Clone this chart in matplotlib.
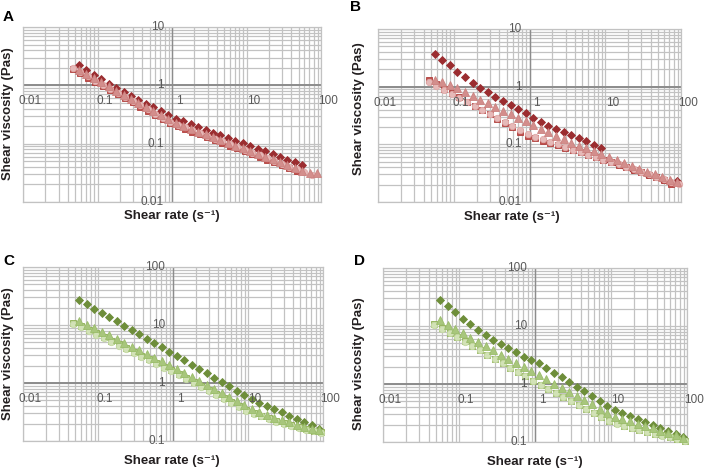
import matplotlib
matplotlib.use("Agg")
import matplotlib.pyplot as plt
from matplotlib.ticker import LogLocator, NullFormatter

plt.rcParams['font.family'] = ['Liberation Sans', 'DejaVu Sans']

# shear rates (1/s): diamonds/triangles and squares/circles were sampled a bit apart
rate_d = [0.056, 0.071, 0.089, 0.112, 0.141, 0.178, 0.224, 0.282, 0.355, 0.447, 0.562,
          0.708, 0.891, 1.12, 1.41, 1.78, 2.24, 2.82, 3.55, 4.47, 5.62, 7.08, 8.91, 11.2,
          14.1, 17.8, 22.4, 28.2, 35.5, 44.7, 56.2, 70.8, 89.1]
rate_s = [0.047, 0.059, 0.075, 0.094, 0.119, 0.149, 0.188, 0.237, 0.298, 0.375, 0.473,
          0.595, 0.749, 0.944, 1.19, 1.5, 1.88, 2.37, 2.98, 3.75, 4.73, 5.95, 7.49, 9.44,
          11.9, 15.0, 18.8, 23.7, 29.8, 37.5, 47.3, 59.5, 74.9, 94.4]

# panel A
a_diamond = [2.2, 1.83, 1.53, 1.28, 1.07, 0.9, 0.77, 0.66, 0.565, 0.485, 0.418, 0.36,
             0.31, 0.268, 0.24, 0.215, 0.193, 0.173, 0.155, 0.139, 0.125, 0.112, 0.101,
             0.0905, 0.0815, 0.0735, 0.066, 0.0595, 0.0535, 0.048, 0.0435]
a_square = [1.88, 1.6, 1.36, 1.15, 0.98, 0.83, 0.705, 0.6, 0.51, 0.432, 0.367, 0.312, 0.265,
            0.225, 0.201, 0.18, 0.161, 0.144, 0.129, 0.116, 0.104, 0.093, 0.083, 0.0744,
            0.0666, 0.0597, 0.0534, 0.0479, 0.0428, 0.0384, 0.034]
a_circle = [1.98, 1.68, 1.43, 1.21, 1.03, 0.875, 0.743, 0.631, 0.536, 0.455, 0.386, 0.328,
            0.279, 0.237, 0.212, 0.19, 0.17, 0.152, 0.136, 0.122, 0.109, 0.0977, 0.0875,
            0.0783, 0.0701, 0.0628, 0.0562, 0.0504, 0.0451, 0.0404, 0.0361, 0.0324, 0.029]
a_triangle = [1.85, 1.56, 1.33, 1.13, 0.96, 0.815, 0.695, 0.59, 0.502, 0.428, 0.364, 0.31,
              0.264, 0.225, 0.201, 0.18, 0.161, 0.144, 0.129, 0.116, 0.104, 0.093, 0.083,
              0.075, 0.067, 0.06, 0.054, 0.048, 0.043, 0.0385, 0.0345, 0.031, 0.032]

# panel B
b_diamond = [3.69, 2.90, 2.35, 1.82, 1.49, 1.17, 0.96, 0.80, 0.67, 0.565, 0.482, 0.411,
             0.346, 0.290, 0.245, 0.208, 0.184, 0.163, 0.144, 0.127, 0.112, 0.099, 0.0875,
             0.054, 0.047, 0.042, 0.038, 0.034, 0.031, 0.028, 0.025, 0.0225, 0.023]
b_square = [1.30, 1.095, 0.923, 0.777, 0.655, 0.551, 0.465, 0.391, 0.330, 0.278, 0.234,
            0.197, 0.166, 0.140, 0.127, 0.116, 0.105, 0.0958, 0.0872, 0.0793, 0.0722,
            0.0657, 0.0598, 0.0544, 0.0491, 0.0444, 0.0401, 0.0363, 0.0328, 0.0296,
            0.0268, 0.0242, 0.0205]
b_circle = [1.22, 1.04, 0.88, 0.75, 0.64, 0.545, 0.462, 0.392, 0.333, 0.283, 0.241, 0.205,
            0.175, 0.152, 0.136, 0.123, 0.111, 0.1, 0.09, 0.081, 0.073, 0.066, 0.06, 0.0545,
            0.0495, 0.045, 0.041, 0.037, 0.0335, 0.0303, 0.0275, 0.025, 0.0225, 0.0205]
b_triangle = [1.33, 1.2, 1.08, 0.93, 0.8, 0.69, 0.595, 0.515, 0.445, 0.385, 0.333, 0.288,
              0.25, 0.215, 0.186, 0.161, 0.14, 0.122, 0.107, 0.095, 0.085, 0.076, 0.068,
              0.06, 0.053, 0.047, 0.042, 0.0375, 0.0335, 0.03, 0.027, 0.0245, 0.022]

# panel C
c_diamond = [27.0, 22.8, 19.2, 16.2, 13.6, 11.5, 9.7, 8.2, 6.9, 5.8, 4.9, 4.14, 3.49, 2.94,
             2.48, 2.08, 1.75, 1.48, 1.24, 1.045, 0.879, 0.74, 0.622, 0.524, 0.46, 0.405,
             0.356, 0.313, 0.275, 0.242, 0.212, 0.187, 0.164]
c_square = [11.0, 9.53, 8.26, 7.16, 6.21, 5.36, 4.62, 3.99, 3.44, 2.97, 2.56, 2.21, 1.91,
            1.65, 1.41, 1.205, 1.03, 0.881, 0.753, 0.644, 0.551, 0.471, 0.403, 0.344, 0.307,
            0.275, 0.247, 0.223, 0.204, 0.187, 0.173, 0.161, 0.151, 0.142]
c_circle = [10.5, 9.1, 7.9, 6.85, 5.95, 5.13, 4.43, 3.82, 3.3, 2.85, 2.45, 2.12, 1.83, 1.58,
            1.35, 1.155, 0.99, 0.845, 0.722, 0.618, 0.529, 0.452, 0.387, 0.331, 0.295, 0.265,
            0.238, 0.215, 0.197, 0.181, 0.167, 0.156, 0.146, 0.138]
c_triangle = [11.8, 10.2, 8.85, 7.65, 6.6, 5.7, 4.92, 4.25, 3.67, 3.17, 2.74, 2.36, 2.04,
              1.76, 1.5, 1.28, 1.09, 0.93, 0.795, 0.68, 0.58, 0.495, 0.423, 0.362, 0.318,
              0.283, 0.254, 0.229, 0.209, 0.192, 0.177, 0.164, 0.153]

# panel D
d_diamond = [28.4, 22.4, 17.2, 13.2, 10.8, 8.53, 7.1, 5.74, 4.9, 4.12, 3.51, 2.96, 2.59,
             2.27, 1.89, 1.57, 1.30, 1.08, 0.895, 0.743, 0.617, 0.512, 0.425, 0.352, 0.313,
             0.277, 0.246, 0.218, 0.194, 0.172, 0.152, 0.135, 0.12]
d_square = [10.8, 9.08, 7.64, 6.43, 5.41, 4.55, 3.83, 3.22, 2.71, 2.28, 1.92, 1.61, 1.36,
            1.14, 0.973, 0.828, 0.705, 0.6, 0.511, 0.435, 0.37, 0.315, 0.268, 0.228, 0.209,
            0.192, 0.177, 0.163, 0.151, 0.14, 0.13, 0.121, 0.113, 0.105]
d_circle = [10.6, 8.95, 7.55, 6.35, 5.35, 4.5, 3.79, 3.19, 2.69, 2.26, 1.9, 1.6, 1.35, 1.13,
            0.965, 0.82, 0.7, 0.596, 0.508, 0.432, 0.368, 0.313, 0.266, 0.227, 0.208, 0.191,
            0.176, 0.162, 0.15, 0.139, 0.129, 0.12, 0.112, 0.104]
d_triangle = [12.5, 10.5, 8.9, 7.5, 6.3, 5.3, 4.5, 3.8, 3.2, 2.72, 2.31, 1.96, 1.67, 1.42,
              1.2, 1.02, 0.865, 0.733, 0.621, 0.526, 0.446, 0.378, 0.32, 0.272, 0.248, 0.226,
              0.206, 0.188, 0.171, 0.156, 0.142, 0.13, 0.118]

x_ticks = [0.01, 0.1, 1, 10, 100]
x_labels = ['0.01', '0.1', '1', '10', '100']
y_ticks_top = [0.01, 0.1, 1, 10]
y_labels_top = ['0.01', '0.1', '1', '10']
y_ticks_bot = [0.1, 1, 10, 100]
y_labels_bot = ['0.1', '1', '10', '100']

reds = {'D': ('#9B2D30', '#9B2D30'), 's': ('#C0504D', '#B03F3C'),
        'o': ('#E6B9B8', '#E0A9A8'), '^': ('#D38E8C', '#CC8280')}
greens = {'D': ('#6E8E3A', '#6E8E3A'), 's': ('#B9D08E', '#8CAE50'),
          'o': ('#D2E2B6', '#C4D9A2'), '^': ('#A8C67C', '#9ABD6A')}

W, H = 709, 468
fig = plt.figure(figsize=(W / 100, H / 100), dpi=100)


def panel(box, ylim, yt, yl, series, cols, letter, letterpos, xlabpos, ylabpos):
    l, t, r, b = box
    ax = fig.add_axes([l / W, 1 - b / H, (r - l) / W, (b - t) / H])
    ax.set_xscale('log')
    ax.set_yscale('log')
    ax.set_xlim(0.01, 100)
    ax.set_ylim(*ylim)
    for a in (ax.xaxis, ax.yaxis):
        a.set_major_locator(LogLocator(base=10, numticks=10))
        a.set_minor_locator(LogLocator(base=10, subs=range(2, 10), numticks=20))
        a.set_minor_formatter(NullFormatter())
    ax.grid(which='both', color='#C2C2C2', lw=0.9)
    ax.set_axisbelow(True)
    ax.tick_params(which='both', length=0, labelbottom=False, labelleft=False)
    for s in ax.spines.values():
        s.set_color('#C2C2C2')
        s.set_linewidth(0.9)
    ax.axvline(1, color='#8C8C8C', lw=1.0, zorder=1.5)
    ax.axhline(1, color='#8C8C8C', lw=1.4, zorder=1.5)

    sizes = {'D': 4.0, 's': 4.6, 'o': 4.6, '^': 5.4}
    for mk, x, y in series:
        fc, ec = cols[mk]
        ax.plot(x[:len(y)], y, ls='none', marker=mk, ms=sizes[mk],
                mfc=fc, mec=ec, mew=0.6, zorder=3, clip_on=False)

    for v, s in zip(x_ticks, x_labels):
        ax.annotate(s, xy=(v, 1), xytext=(7, -16), textcoords='offset pixels',
                    ha='center', va='center', fontsize=8.5, color='#595959',
                    annotation_clip=False)
    for v, s in zip(yt, yl):
        ax.annotate(s, xy=(1, v), xytext=(-8, 0), textcoords='offset pixels',
                    ha='right', va='center', fontsize=8.5, color='#595959',
                    annotation_clip=False)

    fig.text(letterpos[0] / W, 1 - letterpos[1] / H, letter, fontsize=11,
             fontweight='bold', ha='left', va='top')
    fig.text(xlabpos[0] / W, 1 - xlabpos[1] / H, 'Shear rate (s\u207b\u00b9)',
             fontsize=9.5, fontweight='bold', ha='center', va='center', color='#231F20')
    fig.text(ylabpos[0] / W, 1 - ylabpos[1] / H, 'Shear viscosity (Pas)',
             fontsize=9.5, fontweight='bold', rotation=90, ha='center', va='center',
             color='#231F20')


panel((23, 27, 321, 202), (0.01, 10), y_ticks_top, y_labels_top,
      [('D', rate_d, a_diamond), ('s', rate_s, a_square),
       ('o', rate_s, a_circle), ('^', rate_d, a_triangle)],
      reds, 'A', (3, 10), (172, 216), (8, 114))
panel((378, 29, 681, 202), (0.01, 10), y_ticks_top, y_labels_top,
      [('D', rate_d, b_diamond), ('s', rate_s, b_square),
       ('o', rate_s, b_circle), ('^', rate_d, b_triangle)],
      reds, 'B', (350, 0), (512, 217), (359, 109))
panel((23, 267, 323, 441), (0.1, 100), y_ticks_bot, y_labels_bot,
      [('D', rate_d, c_diamond), ('s', rate_s, c_square),
       ('o', rate_s, c_circle), ('^', rate_d, c_triangle)],
      greens, 'C', (3, 254), (172, 461), (8, 354))
panel((383, 268, 687, 442), (0.1, 100), y_ticks_bot, y_labels_bot,
      [('D', rate_d, d_diamond), ('s', rate_s, d_square),
       ('o', rate_s, d_circle), ('^', rate_d, d_triangle)],
      greens, 'D', (354, 254), (535, 462), (359, 364))

fig.savefig('out.png', dpi=100)
